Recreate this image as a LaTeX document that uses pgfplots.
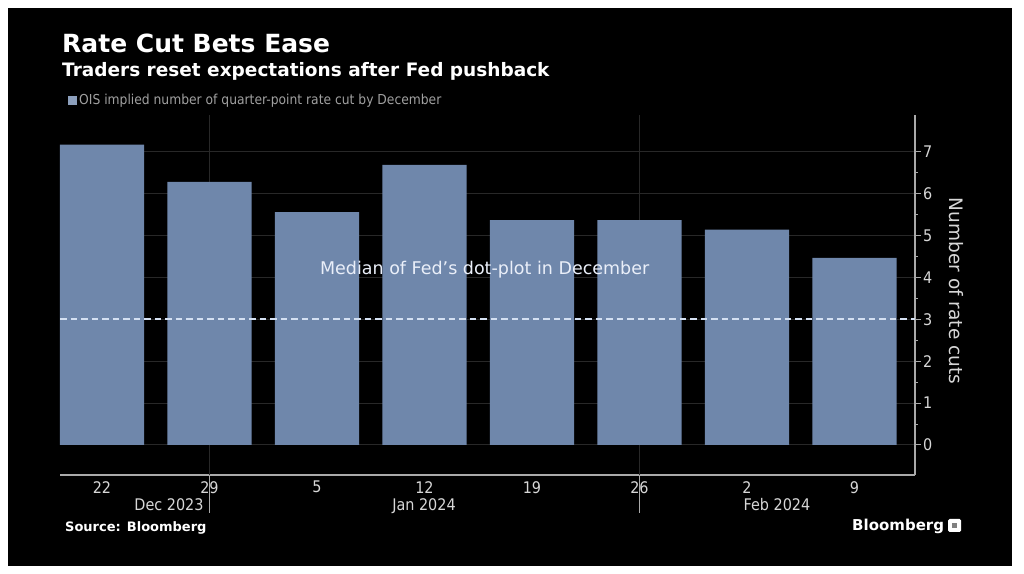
\documentclass[border=0pt]{standalone}
\usepackage{pgfplots}
\pgfplotsset{compat=1.18}
\usepackage{fontspec}
\setmainfont{DejaVu Sans}
\newfontfamily\cond{DejaVu Sans Condensed}

\definecolor{barblue}{RGB}{111,135,171}
\definecolor{dashcol}{RGB}{212,224,242}
\definecolor{axisgray}{RGB}{170,170,170}
\definecolor{gridgray}{RGB}{40,40,40}
\definecolor{ticktext}{RGB}{215,215,215}
\definecolor{legtext}{RGB}{160,160,160}

\newcommand{\fs}[1]{\fontsize{#1bp}{#1bp}\selectfont}

\begin{document}
\begin{tikzpicture}
\path[use as bounding box] (0,0) rectangle (1024bp,574bp);
\fill[white] (0,0) rectangle (1024bp,574bp);
\fill[black] (8bp,8bp) rectangle (1012bp,566bp);

% titles
\node[anchor=base west, inner sep=0pt, text=white, font=\bfseries\fs{25}] at (62bp,521bp) {Rate Cut Bets Ease};
\node[anchor=base west, inner sep=0pt, text=white, font=\bfseries\fs{18.5}] at (62bp,497bp) {Traders reset expectations after Fed pushback};
\fill[barblue!80!white] (68bp,469bp) rectangle (77bp,478bp);
\node[anchor=base west, inner sep=0pt, text=legtext, font=\cond\fs{13.7}] at (79bp,469bp) {OIS implied number of quarter-point rate cut by December};

\begin{axis}[
    at={(60bp,99bp)}, anchor=south west,
    scale only axis,
    width=855bp, height=360bp,
    xmin=-0.39, xmax=7.563,
    ymin=-0.717, ymax=7.88,
    clip=false,
    axis x line*=bottom,
    axis y line*=right,
    axis line style={draw=axisgray, line width=1.2bp},
    xtick={0,...,7},
    xticklabels={22,29,5,12,19,26,2,9},
    xtick style={draw=none},
    extra x ticks={1,5},
    extra x tick labels={},
    extra x tick style={grid=major, major grid style={draw=gridgray, line width=1bp}, tick style={draw=none}},
    ytick={0,...,7},
    minor y tick num=1,
    tick align=outside,
    major tick length=6bp,
    minor tick length=3bp,
    ytick style={draw=axisgray, line width=1bp},
    ymajorgrids,
    major grid style={draw=gridgray, line width=1bp},
    /pgf/number format/assume math mode=true,
    yticklabel style={font=\cond\fs{16}, text=ticktext, anchor=west, inner sep=0pt, xshift=2bp},
    xticklabel style={font=\cond\fs{16}, text=ticktext, anchor=north, inner sep=0pt},
]
\addplot[ybar, bar width=0.784, fill=barblue, draw=none]
    coordinates {(0,7.17) (1,6.28) (2,5.56) (3,6.69) (4,5.37) (5,5.37) (6,5.14) (7,4.47)};
\addplot[dashcol, line width=2bp, dash pattern=on 6.5bp off 4bp]
    coordinates {(-0.39,3) (7.563,3)};
\node[text=dashcol!50!white, font=\fs{17.5}] at (axis cs:3.56,4.18) {Median of Fed’s dot-plot in December};
\draw[axisgray, line width=1bp] (axis cs:1,-0.717) -- ([yshift=-38bp]axis cs:1,-0.717);
\draw[axisgray, line width=1bp] (axis cs:5,-0.717) -- ([yshift=-38bp]axis cs:5,-0.717);
\end{axis}

% month labels
\node[anchor=base, inner sep=0pt, text=ticktext, font=\cond\fs{16}] at (169bp,63bp) {Dec 2023};
\node[anchor=base, inner sep=0pt, text=ticktext, font=\cond\fs{16}] at (424bp,63bp) {Jan 2024};
\node[anchor=base, inner sep=0pt, text=ticktext, font=\cond\fs{16}] at (777bp,63bp) {Feb 2024};

% y label
\node[rotate=-90, text=ticktext, font=\fs{18.5}] at (956bp,283bp) {Number of rate cuts};

% footer
\node[anchor=base west, inner sep=0pt, text=white, font=\bfseries\fs{13}] at (65bp,42bp) {Source: Bloomberg};
\node[anchor=base west, inner sep=0pt, text=white, font=\bfseries\fs{15}] at (852bp,43bp) {Bloomberg};
\fill[white, rounded corners=1.5bp] (948bp,42bp) rectangle (961bp,55bp);
\fill[gray] (952bp,46bp) rectangle (957bp,51bp);
\end{tikzpicture}
\end{document}
